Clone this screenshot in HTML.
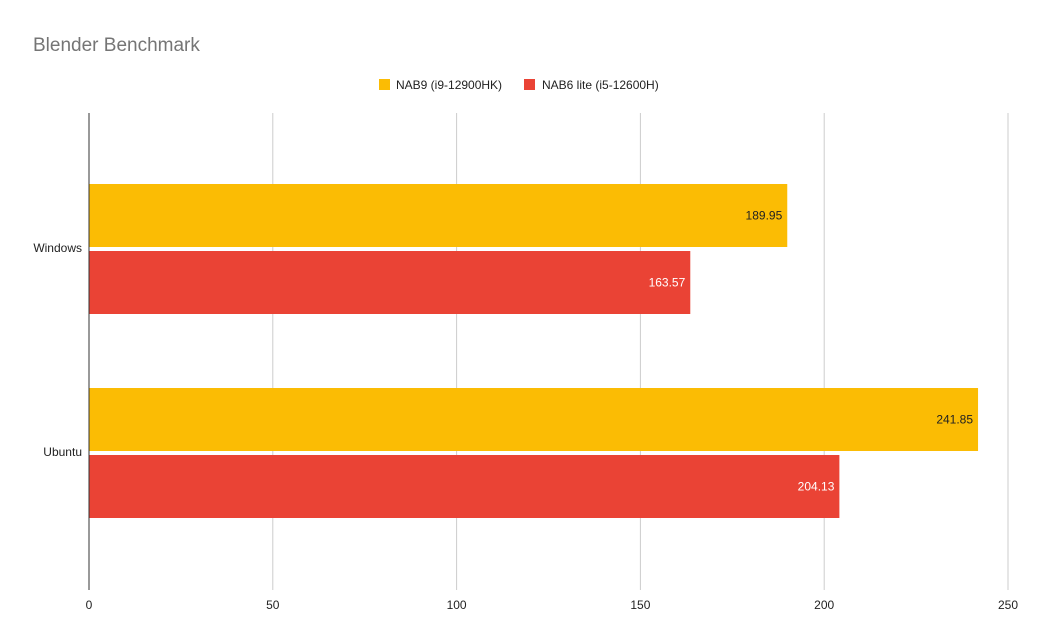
<!DOCTYPE html>
<html><head><meta charset="utf-8"><style>
body{margin:0;background:#fff;font-family:"Liberation Sans",Arial,sans-serif}
svg{display:block}
</style></head><body>
<svg id="chart" width="1040" height="643">
<text x="33" y="51" font-size="19" fill="#757575">Blender Benchmark</text>
<g>
<rect x="379" y="79" width="11" height="11" fill="#fbbc04"/>
<text x="396" y="89" font-size="12" fill="#222">NAB9 (i9-12900HK)</text>
<rect x="524" y="79" width="11" height="11" fill="#ea4335"/>
<text x="542" y="89" font-size="12" fill="#222">NAB6 lite (i5-12600H)</text>
</g>
<g id="grid"></g><g id="bars"></g><g id="axes"></g>
</svg>
<script>
const categories=["Windows","Ubuntu"];
const nab9=[189.95,241.85];
const nab6=[163.57,204.13];
const ticks=[0,50,100,150,200,250];
const NS="http://www.w3.org/2000/svg";
const x0=89,x1=1008,yTop=113,yBot=590,xMax=250;
const catTop=148,catBot=556;
const xs=v=>x0+(v/xMax)*(x1-x0);
const band=(catBot-catTop)/categories.length;
function mk(t,a,p){const e=document.createElementNS(NS,t);for(const k in a)e.setAttribute(k,a[k]);p.appendChild(e);return e;}
const grid=document.getElementById('grid'),bars=document.getElementById('bars'),axes=document.getElementById('axes');
ticks.forEach(t=>{
 const l=mk('line',{x1:xs(t),x2:xs(t),y1:yTop,y2:yBot,stroke:t===0?'#333':'#ccc','stroke-width':1},t===0?axes:grid);
 
 
 const tx=mk('text',{x:xs(t),y:609,'font-size':12,fill:'#222','text-anchor':'middle'},axes);
 tx.textContent=t;
 
 
});
categories.forEach((c,i)=>{
 const cy=catTop+band*(i+0.5)-2;
 const bh=63;
 [[nab9,'#fbbc04','#222',cy-bh-1,'nab9'],[nab6,'#ea4335','#fff',cy+3,'nab6']].forEach(([arr,col,tc,y,nm])=>{
  const r=mk('rect',{x:x0,y:y,width:xs(arr[i])-x0,height:bh,fill:col},bars);
  
  
  const t=mk('text',{x:xs(arr[i])-5,y:y+bh/2+4,'font-size':12,fill:tc,'text-anchor':'end'},bars);
  t.textContent=arr[i].toFixed(2);
  
  
 });
 const l=mk('text',{x:82,y:cy+4,'font-size':12,fill:'#222','text-anchor':'end'},axes);
 l.textContent=c;
 
 
});
</script>
</body></html>
